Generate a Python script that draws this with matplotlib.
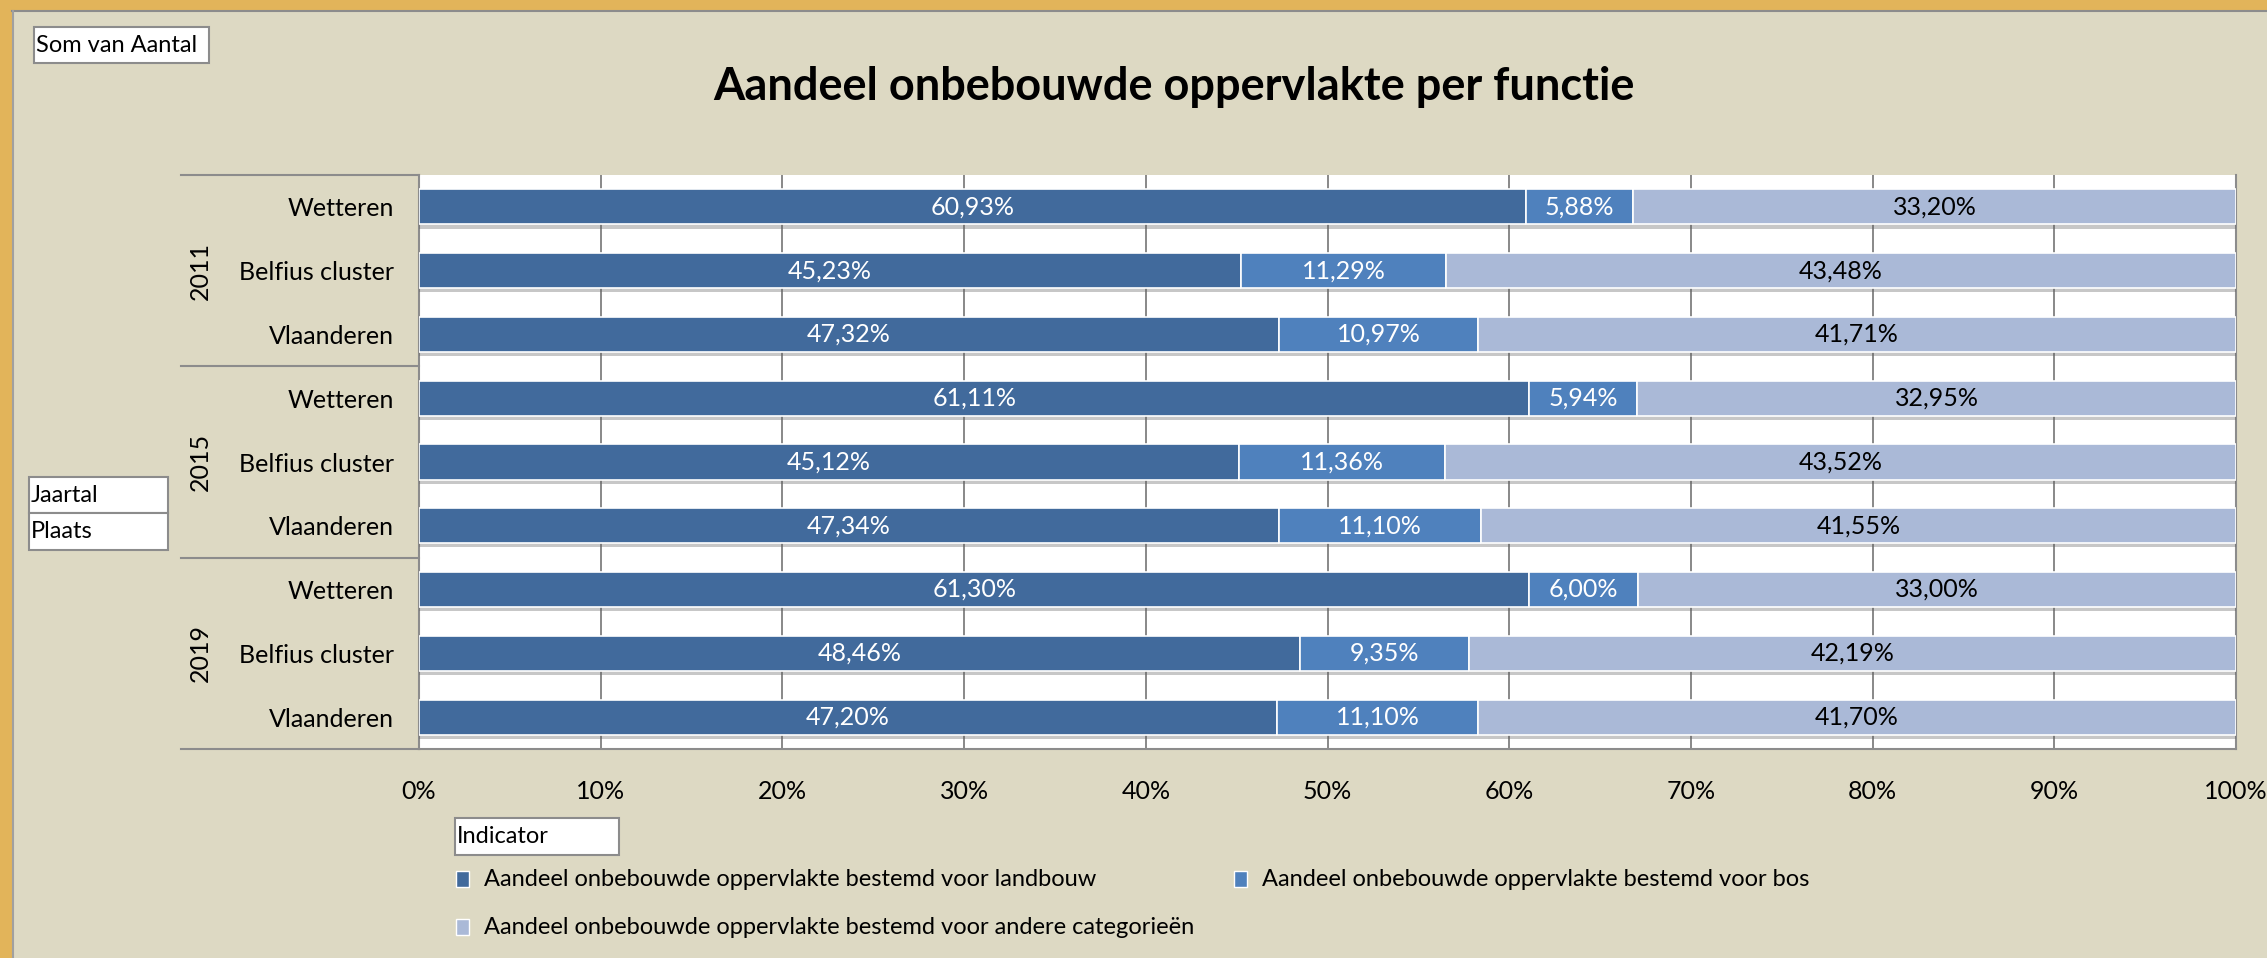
import numpy as np
import matplotlib
matplotlib.use("Agg")
import matplotlib.pyplot as plt
import matplotlib.patheffects as pe
from matplotlib.patches import Rectangle
from matplotlib.transforms import blended_transform_factory

plt.rcParams['font.family'] = ['Lato', 'DejaVu Sans']

# data
jaren    = ["2011", "2015", "2019"]
plaatsen = ["Wetteren", "Belfius cluster", "Vlaanderen"]
series   = ["Aandeel onbebouwde oppervlakte bestemd voor landbouw",
            "Aandeel onbebouwde oppervlakte bestemd voor bos",
            "Aandeel onbebouwde oppervlakte bestemd voor andere categorieën"]
landbouw = [60.93, 45.23, 47.32, 61.11, 45.12, 47.34, 61.30, 48.46, 47.20]
bos      = [5.88, 11.29, 10.97, 5.94, 11.36, 11.10, 6.00, 9.35, 11.10]
andere   = [33.20, 43.48, 41.71, 32.95, 43.52, 41.55, 33.00, 42.19, 41.70]
x_ticks  = ["0%", "10%", "20%", "30%", "40%", "50%", "60%", "70%", "80%", "90%", "100%"]

colors     = ["#416a9c", "#4f81bd", "#aab9d7"]
txt_colors = ["white", "white", "black"]
BG = "#ddd9c3"

W, H = 2267, 958
fig = plt.figure(figsize=(W / 100, H / 100), dpi=100, facecolor=BG)

def fx(px): return px / W
def fy(py): return 1 - py / H

# orange frame (top + left) with grey inner line
fig.patches.append(Rectangle((0, fy(10)), 1, 10 / H, transform=fig.transFigure,
                             facecolor="#e2b45a", edgecolor="none", zorder=0))
fig.patches.append(Rectangle((0, 0), fx(12), 1, transform=fig.transFigure,
                             facecolor="#e2b45a", edgecolor="none", zorder=0))
fig.add_artist(plt.Line2D([fx(12), 1], [fy(11), fy(11)], color="#8c8c8c", lw=1.5))
fig.add_artist(plt.Line2D([fx(13), fx(13)], [0, fy(11)], color="#a0a0a0", lw=1.5))

ax = fig.add_axes([fx(419), fy(749), fx(2236) - fx(419), (749 - 175) / H])
ax.set_facecolor("white")

vals = np.array([landbouw, bos, andere])
totals = vals.sum(axis=0)
shares = vals / totals * 100
y = np.arange(len(landbouw))

left = np.zeros(len(y))
for i in range(3):
    bars = ax.barh(y, shares[i], left=left, height=0.55, color=colors[i],
                   edgecolor="white", linewidth=1.2, zorder=3)
    for b in bars:
        b.set_path_effects([pe.SimplePatchShadow(offset=(0, -3), shadow_rgbFace="#606060",
                                                 alpha=0.35), pe.Normal()])
    for yy, l, s, v in zip(y, left, shares[i], vals[i]):
        ax.text(l + s / 2, yy, f"{v:.2f}".replace(".", ",") + "%", ha="center",
                va="center", color=txt_colors[i], fontsize=18, zorder=4)
    left = left + shares[i]

ax.set_xlim(0, 100)
ax.set_ylim(8.5, -0.5)
ax.set_xticks(np.arange(0, 101, 10))
ax.set_xticklabels(x_ticks, fontsize=18)
ax.set_yticks(y)
ax.set_yticklabels(plaatsen * 3, fontsize=18)
ax.tick_params(axis="both", length=0)
ax.tick_params(axis="y", pad=18)
ax.tick_params(axis="x", pad=22)
ax.grid(axis="x", color="#7f7f7f", lw=1.3, zorder=1)
ax.spines["top"].set_visible(False)
for s in ["left", "right", "bottom"]:
    ax.spines[s].set_color("#8c8c8c")
    ax.spines[s].set_linewidth(1.5)

# category axis (year groups)
tr = blended_transform_factory(fig.transFigure, ax.transData)
for yl in [-0.5, 2.5, 5.5, 8.5]:
    ax.plot([fx(181), fx(419)], [yl, yl], color="#8c8c8c", lw=1.5,
            transform=tr, clip_on=False)
for k, jaar in enumerate(jaren):
    ax.text(fx(200), 3 * k + 1, jaar, rotation=90, ha="center", va="center",
            fontsize=18, transform=tr)

fig.text(fx(1174), fy(87), "Aandeel onbebouwde oppervlakte per functie",
         fontsize=32.5, fontweight="bold", ha="center", va="center")

def box(x0, y0, x1, y1, label):
    fig.patches.append(Rectangle((fx(x0), fy(y1)), (x1 - x0) / W, (y1 - y0) / H,
                                 transform=fig.transFigure, facecolor="white",
                                 edgecolor="#8c8c8c", lw=1.5))
    fig.text(fx(x0 + 2), fy((y0 + y1) / 2), label, ha="left", va="center", fontsize=17)

box(34, 27, 209, 63, "Som van Aantal")
box(29, 477, 168, 513, "Jaartal")
box(29, 513, 168, 550, "Plaats")
box(455, 818, 619, 855, "Indicator")

# legend
leg_pos = [(462, 879), (1240, 879), (462, 927)]
for (lx, ly), c, name in zip(leg_pos, colors, series):
    fig.patches.append(Rectangle((fx(lx - 6), fy(ly + 8)), 13 / W, 16 / H,
                                 transform=fig.transFigure, facecolor=c,
                                 edgecolor="white", lw=1))
    fig.text(fx(lx + 22), fy(ly), name, ha="left", va="center", fontsize=17)

fig.savefig("out.png", dpi=100, facecolor=BG)
